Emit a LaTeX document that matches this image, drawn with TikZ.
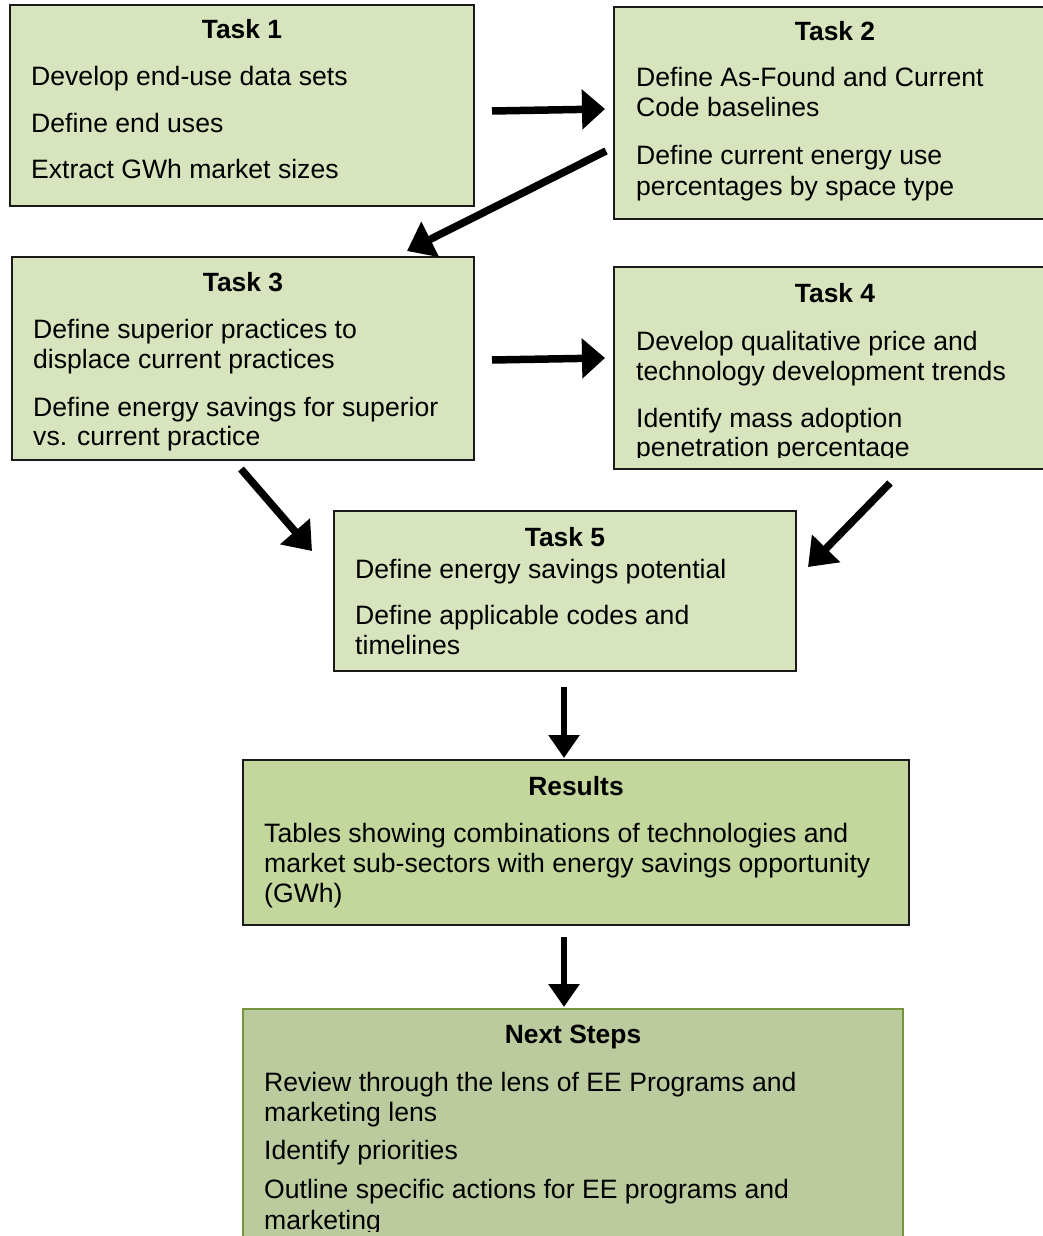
\documentclass[tikz,border=0pt]{standalone}
\usepackage{fontspec}
\setmainfont{Liberation Sans}
\usetikzlibrary{arrows.meta}
\definecolor{taskfill}{HTML}{D7E4BD}
\definecolor{resfill}{HTML}{C3D69B}
\definecolor{nextfill}{HTML}{BCCB9E}
\definecolor{nextdraw}{HTML}{77933C}
\definecolor{boxdraw}{HTML}{1A1A1A}
\tikzset{
  taskbox/.style={draw=boxdraw, line width=2pt, fill=taskfill, rectangle, inner sep=0pt},
  resbox/.style={taskbox, fill=resfill},
  nextbox/.style={taskbox, fill=nextfill, draw=nextdraw},
  txt/.style={anchor=base west, inner sep=0pt, font=\fontsize{26.6}{30}\selectfont},
  ttl/.style={anchor=base, inner sep=0pt, font=\fontsize{26.4}{30}\selectfont\bfseries},
  harrow/.style={line width=7.5pt, -{Triangle[length=23pt,width=39pt]}},
  darrow/.style={line width=7.5pt, -{Triangle[length=26pt,width=38pt]}},
  varrow/.style={line width=6pt, -{Triangle[length=23pt,width=30pt]}},
}
\begin{document}
\begin{tikzpicture}[x=1pt,y=-1pt]
\useasboundingbox (0,0) rectangle (1043,1236);
\fill[white] (0,0) rectangle (1043,1236);

% boxes
\node[taskbox, minimum width=464pt, minimum height=201pt] (t1) at (242,105.5) {};
\node[taskbox, minimum width=442pt, minimum height=212pt] (t2) at (835,113) {};
\node[taskbox, minimum width=462pt, minimum height=203pt] (t3) at (243,358.5) {};
\node[taskbox, minimum width=442pt, minimum height=202pt] (t4) at (835,368) {};
\node[taskbox, minimum width=462pt, minimum height=160pt] (t5) at (565,591) {};
\node[resbox, minimum width=666pt, minimum height=165pt] (res) at (576,842.5) {};
\node[nextbox, minimum width=660pt, minimum height=251pt] (nxt) at (573,1134.5) {};

% Task 1
\node[ttl] (t1h) at (242,39) {Task 1};
\node[txt] (t1a) at (31,86) {Develop end-use data sets};
\node[txt] (t1b) at (31,132) {Define end uses};
\node[txt] (t1c) at (31,178) {Extract GWh market sizes};

% Task 2
\node[ttl] (t2h) at (835,41) {Task 2};
\node[txt] (t2a) at (636,87) {Define As-Found and Current};
\node[txt] (t2b) at (636,117) {Code baselines};
\node[txt] (t2c) at (636,164) {Define current energy use};
\node[txt] (t2d) at (636,195) {percentages by space type};

% Task 3
\node[ttl] (t3h) at (243,291) {Task 3};
\node[txt] (t3a) at (33,338) {Define superior practices to};
\node[txt] (t3b) at (33,368) {displace current practices};
\node[txt] (t3c) at (33,416) {Define energy savings for superior};
\node[txt] (t3d) at (33,445) {vs. current practice};

% Task 4
\begin{scope}
\clip (614,267) rectangle (1043,457);
\node[ttl] (t4h) at (835,302) {Task 4};
\node[txt] (t4a) at (636,350) {Develop qualitative price and};
\node[txt] (t4b) at (636,380) {technology development trends};
\node[txt] (t4c) at (636,427) {Identify mass adoption};
\node[txt] (t4d) at (636,456) {penetration percentage};
\end{scope}

% Task 5
\node[ttl] (t5h) at (565,546) {Task 5};
\node[txt] (t5a) at (355,578) {Define energy savings potential};
\node[txt] (t5b) at (355,624) {Define applicable codes and};
\node[txt] (t5c) at (355,654) {timelines};

% Results
\node[ttl] (resh) at (576,795) {Results};
\node[txt] (resa) at (264,842) {Tables showing combinations of technologies and};
\node[txt] (resb) at (264,872) {market sub-sectors with energy savings opportunity};
\node[txt] (resc) at (264,902) {(GWh)};

% Next steps
\begin{scope}
\clip (243,1009) rectangle (903,1231);
\node[ttl] (nxth) at (573,1043) {Next Steps};
\node[txt] (nxta) at (264,1091) {Review through the lens of EE Programs and};
\node[txt] (nxtb) at (264,1121) {marketing lens};
\node[txt] (nxtc) at (264,1159) {Identify priorities};
\node[txt] (nxtd) at (264,1198) {Outline specific actions for EE programs and};
\node[txt] (nxte) at (264,1229) {marketing};
\end{scope}

% connector end points
\coordinate (a12s) at (492,111);  \coordinate (a12e) at (605,109);
\coordinate (a23s) at (606,151);  \coordinate (a23e) at (407,251);
\coordinate (a34s) at (492,360);  \coordinate (a34e) at (605,358);
\coordinate (a35s) at (241,469);  \coordinate (a35e) at (312,551);
\coordinate (a45s) at (890,483);  \coordinate (a45e) at (808,567);
\coordinate (a5rs) at (564,687);  \coordinate (a5re) at (564,758);
\coordinate (arns) at (564,937);  \coordinate (arne) at (564,1007);

\draw[harrow] (a12s) -- (a12e);
\draw[darrow] (a23s) -- (a23e);
\draw[harrow] (a34s) -- (a34e);
\draw[darrow] (a35s) -- (a35e);
\draw[darrow] (a45s) -- (a45e);
\draw[varrow] (a5rs) -- (a5re);
\draw[varrow] (arns) -- (arne);
\end{tikzpicture}
\end{document}
